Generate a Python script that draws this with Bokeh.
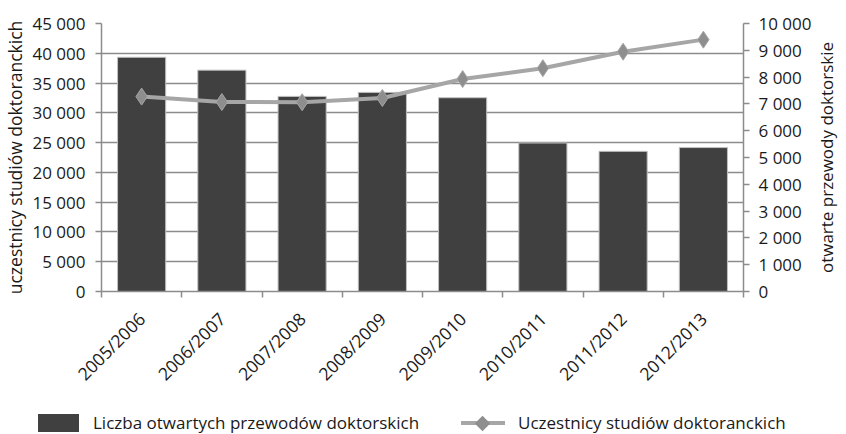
from math import pi
from bokeh.plotting import figure
from bokeh.layouts import column, row
from bokeh.models import (Range1d, LinearAxis, FixedTicker, Label, Div)
from bokeh.embed import file_html
from bokeh.resources import INLINE

years = ["2005/2006", "2006/2007", "2007/2008", "2008/2009",
         "2009/2010", "2010/2011", "2011/2012", "2012/2013"]
proceedings = [8740, 8260, 7280, 7430, 7230, 5540, 5230, 5370]      # right axis (bars)
students = [32725, 31814, 31785, 32494, 35671, 37492, 40263, 42289]  # left axis (line)

left_ticks = [0, 5000, 10000, 15000, 20000, 25000, 30000, 35000, 40000, 45000]
left_tick_labels = ["0", "5 000", "10 000", "15 000", "20 000", "25 000",
                    "30 000", "35 000", "40 000", "45 000"]
right_ticks = [0, 1000, 2000, 3000, 4000, 5000, 6000, 7000, 8000, 9000, 10000]
right_tick_labels = ["0", "1 000", "2 000", "3 000", "4 000", "5 000",
                     "6 000", "7 000", "8 000", "9 000", "10 000"]

bar_label = "Liczba otwartych przewodów doktorskich"
line_label = "Uczestnicy studiów doktoranckich"
left_title = "uczestnicy studiów doktoranckich"
right_title = "otwarte przewody doktorskie"

FONT = "Open Sans"
AX = "#8c8c8c"
TXT = "#1a1a1a"
BAR_FILL = "#404040"
BAR_EDGE = "#c0c0c0"
LINE_COL = "#a6a6a6"
MARK_COL = "#8e8e8e"

n = len(years)
xpos = [i + 0.5 for i in range(n)]

TOP, BOTTOM = 23, 99
H = 396

p = figure(width=814, height=H, output_backend="svg", toolbar_location=None,
           x_range=Range1d(0, n), y_range=Range1d(0, 45000),
           min_border_left=96, min_border_right=69, min_border_top=TOP,
           min_border_bottom=BOTTOM)
p.extra_y_ranges = {"right": Range1d(0, 10000)}
p.outline_line_color = None

p.vbar(x=xpos, top=proceedings, width=0.6, y_range_name="right",
       fill_color=BAR_FILL, line_color=BAR_EDGE, line_width=1)
p.line(x=xpos, y=students, line_color=LINE_COL, line_width=4)
p.scatter(x=xpos, y=students, marker="diamond", size=17,
          fill_color=MARK_COL, line_color=LINE_COL, line_width=1)

# x axis
xa = p.xaxis[0]
xa.ticker = FixedTicker(ticks=xpos, minor_ticks=list(range(n + 1)))
xa.major_label_overrides = {x: y for x, y in zip(xpos, years)}
xa.major_label_orientation = pi / 4
xa.major_tick_line_color = None
xa.major_tick_out = 4
xa.minor_tick_out = 6
xa.minor_tick_in = 0
xa.minor_tick_line_color = AX
xa.minor_tick_line_width = 1.5
xa.axis_line_color = AX
xa.axis_line_width = 1.5
xa.major_label_standoff = 18
xa.major_label_text_font = FONT
xa.major_label_text_font_size = "17.5px"
xa.major_label_text_color = TXT
p.xgrid.visible = False

# left axis
ya = p.yaxis[0]
ya.ticker = FixedTicker(ticks=left_ticks)
ya.major_label_overrides = {t: s for t, s in zip(left_ticks, left_tick_labels)}
ya.axis_line_color = AX
ya.axis_line_width = 1.5
ya.major_tick_line_color = AX
ya.major_tick_line_width = 1.5
ya.major_tick_out = 6
ya.major_tick_in = 0
ya.minor_tick_line_color = None
ya.major_label_standoff = 10
ya.major_label_text_font = FONT
ya.major_label_text_font_size = "17px"
ya.major_label_text_color = TXT
ya.axis_label = left_title
ya.axis_label_text_font = FONT
ya.axis_label_text_font_size = "17.5px"
ya.axis_label_text_font_style = "normal"
ya.axis_label_text_color = TXT
ya.axis_label_standoff = 2
p.ygrid.grid_line_color = AX
p.ygrid.grid_line_width = 1.5

# right axis
ra = LinearAxis(y_range_name="right", ticker=FixedTicker(ticks=right_ticks))
ra.major_label_overrides = {t: s for t, s in zip(right_ticks, right_tick_labels)}
ra.axis_line_color = AX
ra.axis_line_width = 1.5
ra.major_tick_line_color = AX
ra.major_tick_line_width = 1.5
ra.major_tick_out = 6
ra.major_tick_in = 0
ra.minor_tick_line_color = None
ra.major_label_standoff = 9
ra.major_label_text_font = FONT
ra.major_label_text_font_size = "17px"
ra.major_label_text_color = TXT
p.add_layout(ra, "right")

# right-hand axis title, reading bottom-to-top like the left one
tf = figure(width=24, height=H, output_backend="svg", toolbar_location=None,
            x_range=Range1d(0, 24), y_range=Range1d(0, 1),
            min_border_left=0, min_border_right=0, min_border_top=TOP,
            min_border_bottom=BOTTOM, x_axis_location=None, y_axis_location=None)
tf.outline_line_color = None
tf.grid.visible = False
tf.add_layout(Label(x=12, y=0.5, text=right_title, angle=pi / 2,
                    text_align="center", text_baseline="middle",
                    text_font=FONT, text_font_size="17px", text_color=TXT))

# legend strip
legend_html = f"""
<div style="position:relative;width:838px;height:38px;font-family:'Open Sans',sans-serif;
            font-size:17px;color:{TXT};">
  <div style="position:absolute;left:33px;top:13px;width:41px;height:18px;
              background:{BAR_FILL};"></div>
  <div style="position:absolute;left:88px;top:10px;line-height:24px;white-space:nowrap;">{bar_label}</div>
  <div style="position:absolute;left:456px;top:20px;width:44px;height:4px;
              background:{LINE_COL};"></div>
  <div style="position:absolute;left:472px;top:16.5px;width:11px;height:11px;
              background:{MARK_COL};transform:rotate(45deg);"></div>
  <div style="position:absolute;left:513px;top:10px;line-height:24px;white-space:nowrap;">{line_label}</div>
</div>
"""
leg = Div(text=legend_html, width=838, height=38)

layout = column(row(p, tf, spacing=0), leg, spacing=0)
open("out.html", "w").write(file_html(layout, INLINE))
